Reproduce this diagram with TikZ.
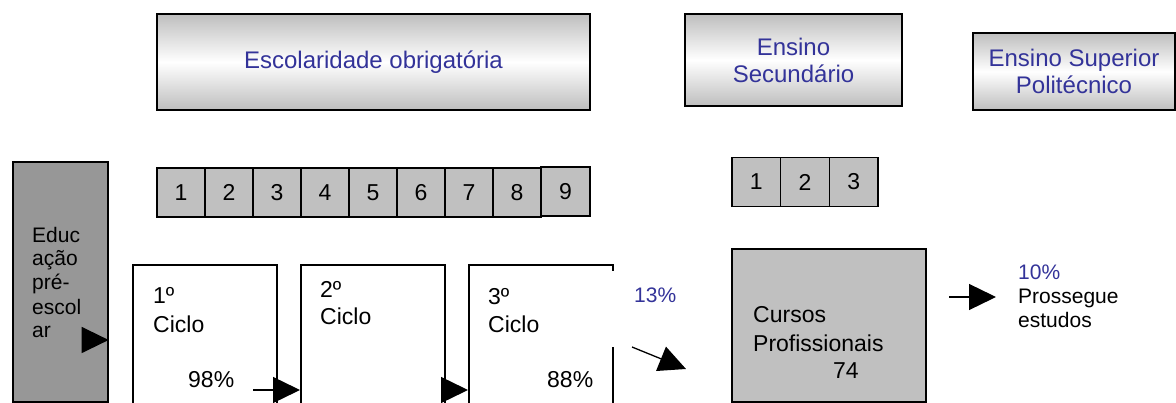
\documentclass[tikz,border=0pt]{standalone}
\usepackage{fontspec}
\setmainfont{Liberation Sans}
\usetikzlibrary{arrows.meta}
\definecolor{hdrgray}{HTML}{BEBEBE}
\definecolor{cellgray}{HTML}{C0C0C0}
\definecolor{pregray}{HTML}{979797}
\definecolor{navy}{HTML}{333399}
\newcommand{\fsz}[2]{\fontsize{#1}{#2}\selectfont}
\tikzset{
  header/.style={draw=black, line width=1.4pt, top color=hdrgray, bottom color=hdrgray,
    middle color=white, font=\fsz{24}{27}, text=navy, align=center, inner sep=0pt},
  gradecell/.style={draw=black, line width=1.3pt, fill=cellgray, inner sep=0pt,
    minimum width=48pt, minimum height=49pt, font=\fsz{23}{27}},
  cyclebox/.style={draw=black, line width=1.3pt, fill=white},
  txt/.style={inner sep=0pt, anchor=base west, align=left},
  bigtip/.style={-{Triangle[length=27pt,width=26pt]}, line width=1.3pt},
}
\begin{document}
\begin{tikzpicture}[x=1pt,y=-1pt]
\useasboundingbox (0,0) rectangle (1176,403);

% top row of headings
\node[header, minimum width=433pt, minimum height=96pt] (obr) at (373.5,62) {Escolaridade obrigatória};
\node[header, minimum width=217pt, minimum height=92pt] (sec) at (793.5,60) {Ensino\\Secundário};
\node[header, minimum width=202pt, minimum height=77pt] (sup) at (1074,71.5) {Ensino Superior\\Politécnico};

% school years 1--9
\foreach \i in {1,...,8}{
  \node[gradecell] (g\i) at ({157+24+48*(\i-1)},192.5) {\i};
}
\node[gradecell, minimum width=49pt] (g9) at (565.5,191.5) {9};

% secondary years 1--3
\foreach \i in {1,2,3}{
  \node[gradecell, minimum width=48.7pt] (s\i) at ({732+24.35+48.7*(\i-1)},182) {\i};
}

% pre-school column
\node[draw=black, line width=1.3pt, fill=pregray, minimum width=95pt, minimum height=240pt,
  inner sep=0pt] (pre) at (60.5,282) {};
\node[txt, font=\fsz{21}{24}] (pretxt) at (32,338) {Educ\\ação\\pré-\\escol\\ar};

% the three cycles (boxes run past the lower edge)
\draw[cyclebox] (133,410) -- (133,265) -- (277,265) -- (277,410);
\draw[cyclebox] (301,410) -- (301,265) -- (445,265) -- (445,410);
\draw[cyclebox] (469,410) -- (469,265) -- (613,265) -- (613,410);
\node[fill=white, inner sep=0pt, minimum width=60pt, minimum height=76pt] (mask) at (640,309) {};

\node[txt, font=\fsz{23}{29}] (t1) at (153,333) {1º\\Ciclo};
\node[txt, font=\fsz{23}{27}] (t2) at (320,325) {2º\\Ciclo};
\node[txt, font=\fsz{23}{28}] (t3) at (488,333) {3º\\Ciclo};
\node[txt, font=\fsz{23}{27}] (p98) at (188,388) {98\%};
\node[txt, font=\fsz{23}{27}] (p88) at (547,388) {88\%};
\node[txt, font=\fsz{21}{24}, text=navy] (p13) at (634,303) {13\%};

% professional courses
\node[draw=black, line width=1.3pt, fill=cellgray, minimum width=194pt, minimum height=153pt,
  inner sep=0pt] (prof) at (829,325.5) {};
\node[txt, font=\fsz{23}{29}] (proftxt) at (753,352) {Cursos\\Profissionais};
\node[txt, font=\fsz{23}{27}] (n74) at (833,379) {74};

\node[txt, font=\fsz{21}{24}] (cont) at (1018,328) {\textcolor{navy}{10\%}\\Prossegue\\estudos};

% arrows
\coordinate (a0s) at (95,340);
\draw[bigtip] (a0s) -- (pre.east |- a0s);
\coordinate (a1s) at (253,390);
\coordinate (a1e) at (300,390);
\draw[bigtip] (a1s) -- (a1e);
\coordinate (a2s) at (445,390);
\coordinate (a2e) at (468,390);
\draw[bigtip] (a2s) -- (a2e);
\coordinate (a3s) at (632,347);
\coordinate (a3e) at (686,369);
\draw[bigtip] (a3s) -- (a3e);
\coordinate (a4s) at (949,297);
\coordinate (a4e) at (996,297);
\draw[bigtip] (a4s) -- (a4e);
\end{tikzpicture}
\end{document}
